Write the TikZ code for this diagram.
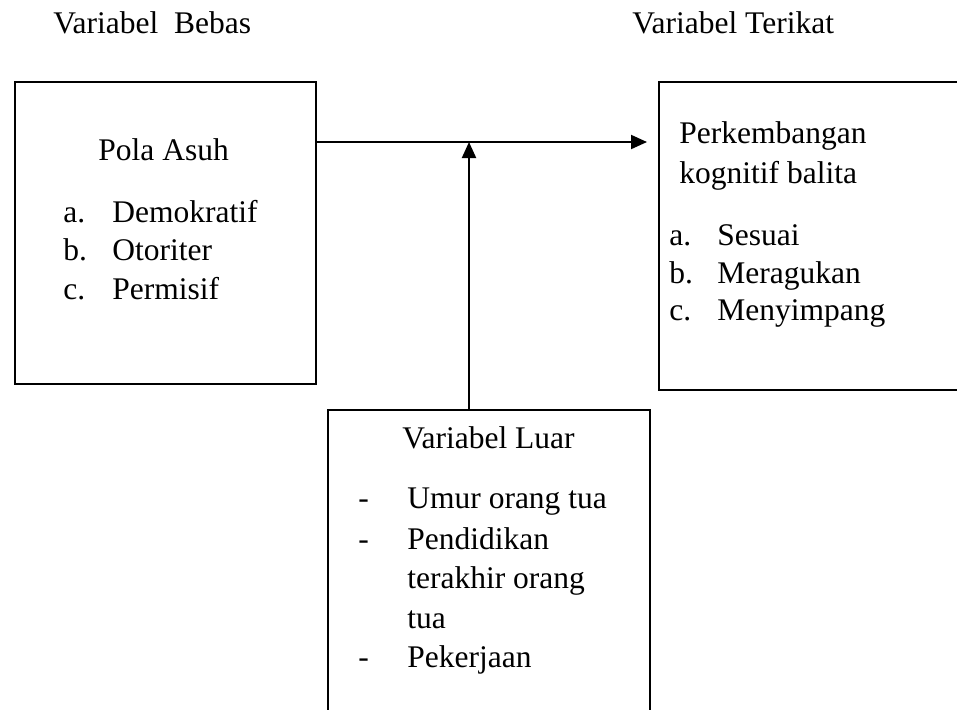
\documentclass[tikz,border=0pt]{standalone}
\usepackage{fontspec}
\setmainfont{Liberation Serif}
\usetikzlibrary{arrows.meta}
\begin{document}
\begin{tikzpicture}[x=0.5pt,y=-0.5pt,
  txt/.style={anchor=base west,inner sep=0pt,font=\fontsize{15.75}{19}\selectfont},
  box/.style={draw,line width=1pt,inner sep=0pt,anchor=north west},
  conn/.style={line width=1pt,-{Triangle[length=8pt,width=7pt]}}]
\useasboundingbox (0,0) rectangle (957,709);
\clip (0,0) rectangle (957,709);
% boxes
\node[box,minimum width=150.5pt,minimum height=151pt] (b1) at (14,81) {};
\node[box,minimum width=165pt,minimum height=154pt] (b2) at (658,81) {};
\node[box,minimum width=161pt,minimum height=160pt] (b3) at (327,409) {};
% titles
\node[txt] (t1) at (53,33) {Variabel\ \ Bebas};
\node[txt] (t2) at (632,33) {Variabel Terikat};
% box 1 text
\node[txt] (p0) at (98,160) {Pola Asuh};
\node[txt] (p1l) at (63,222) {a.};
\node[txt] (p1) at (112,222) {Demokratif};
\node[txt] (p2l) at (63,260) {b.};
\node[txt] (p2) at (112,260) {Otoriter};
\node[txt] (p3l) at (63,299) {c.};
\node[txt] (p3) at (112,299) {Permisif};
% box 2 text
\node[txt] (k0) at (679,143) {Perkembangan};
\node[txt] (k0b) at (679,183) {kognitif balita};
\node[txt] (k1l) at (669,245) {a.};
\node[txt] (k1) at (717,245) {Sesuai};
\node[txt] (k2l) at (669,283) {b.};
\node[txt] (k2) at (717,283) {Meragukan};
\node[txt] (k3l) at (669,320) {c.};
\node[txt] (k3) at (717,320) {Menyimpang};
% box 3 text
\node[txt] (l0) at (402,448) {Variabel Luar};
\node[txt] (l1l) at (358,508) {-};
\node[txt] (l1) at (407,508) {Umur orang tua};
\node[txt] (l2l) at (358,549) {-};
\node[txt] (l2) at (407,549) {Pendidikan};
\node[txt] (l2b) at (407,588) {terakhir orang};
\node[txt] (l2c) at (407,628) {tua};
\node[txt] (l3l) at (358,667) {-};
\node[txt] (l3) at (407,667) {Pekerjaan};
% connectors
\coordinate (s) at (b1.east |- 0,142);
\coordinate (e) at (b2.west |- 0,142);
\coordinate (m) at (469,142);
\draw[conn,shorten >=5.5pt] (s) -- (e);
\draw[conn] (b3.north -| m) -- (m);
\end{tikzpicture}
\end{document}
